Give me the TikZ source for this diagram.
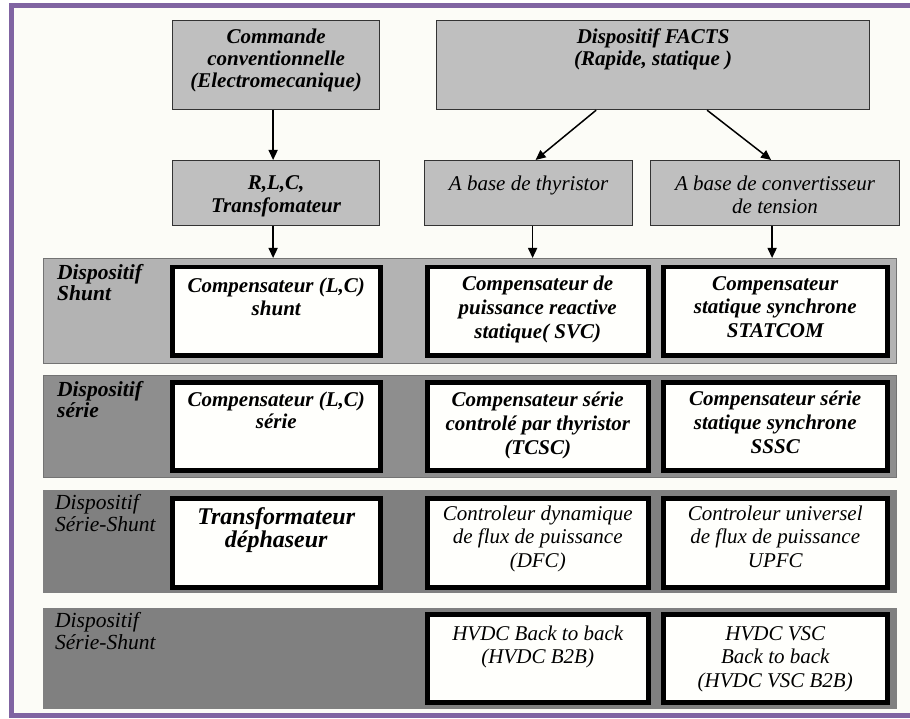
\documentclass[tikz,border=0pt]{standalone}
\usepackage{fontspec}
\setmainfont{Liberation Serif}[ItalicFont={Liberation Serif Italic},BoldFont={Liberation Serif Bold},BoldItalicFont={Liberation Serif Bold Italic}]
\usetikzlibrary{arrows.meta}
\definecolor{framec}{HTML}{8064A2}
\definecolor{bgc}{HTML}{FCFCF7}
\definecolor{topg}{HTML}{BFBFBF}
\definecolor{pan1}{HTML}{B3B3B3}
\definecolor{pan2}{HTML}{8E8E8E}
\definecolor{pan3}{HTML}{808080}
\definecolor{wfill}{HTML}{FFFFFC}
\newcommand\tb[9]{%
  \pgfmathsetmacro\bw{#5-#3}%
  \pgfmathsetmacro\bh{#6-#4}%
  \node[#1,anchor=north west,inner sep=0pt] (#2) at (#3,#4)
   {\parbox[c][\bh pt][t]{\bw pt}{\setlength\baselineskip{#9pt}\centering\rule{0pt}{#7pt}#8\par}};}
\begin{document}
\begin{tikzpicture}[x=1pt,y=-1pt,
  topbox/.style={draw=black!80,line width=1.2pt,fill=topg},
  wbox/.style={draw=black,line width=4.5pt,fill=wfill},
  bfi/.style={font=\fontsize{21}{24}\selectfont\bfseries\itshape},
  rgi/.style={font=\fontsize{21}{24}\selectfont\itshape},
  big/.style={font=\fontsize{24}{24}\selectfont\bfseries\itshape},
  panelbox/.style={anchor=north west,inner sep=0pt,minimum width=853pt,draw=black!55,line width=0.8pt},
  lbl/.style={anchor=north west,inner sep=0pt},
  arr/.style={line width=1.5pt,-{Triangle[length=10pt,width=9pt]}}]
\useasboundingbox (0,0) rectangle (910,719);
\fill[white] (0,0) rectangle (910,719);
\fill[bgc] (11,6) rectangle (910,715);
\draw[framec,line width=5pt] (910,6) -- (11,6) -- (11,715) -- (910,715);

% panels
\node[panelbox,fill=pan1,minimum height=105pt] (p1) at (43,258) {};
\node[panelbox,fill=pan2,minimum height=102pt] (p2) at (43,375) {};
\node[panelbox,fill=pan3,draw=pan3,minimum height=102pt] (p3) at (43,490) {};
\node[panelbox,fill=pan3,draw=pan3,minimum height=100pt] (p4) at (43,608) {};

% panel labels
\node[lbl,font=\fontsize{21.5}{21}\selectfont\bfseries\itshape] (l1) at (57,258) {\parbox[t]{110pt}{\raggedright\rule{0pt}{21pt}Dispositif\\Shunt}};
\node[lbl,font=\fontsize{21.5}{21}\selectfont\bfseries\itshape] (l2) at (57,375) {\parbox[t]{110pt}{\raggedright\rule{0pt}{21pt}Dispositif\\série}};
\node[lbl,font=\fontsize{21.5}{22}\selectfont\itshape] (l3) at (55,490) {\parbox[t]{115pt}{\raggedright\rule{0pt}{19pt}Dispositif\\Série-Shunt}};
\node[lbl,font=\fontsize{21.5}{22}\selectfont\itshape] (l4) at (55,608) {\parbox[t]{115pt}{\raggedright\rule{0pt}{19pt}Dispositif\\Série-Shunt}};

% top boxes
\tb{topbox,bfi}{cmd}{172}{20}{379}{109}{23}{Commande\\conventionnelle\\(Electromecanique)}{22}
\tb{topbox,bfi}{facts}{436}{20}{869}{109}{23}{Dispositif FACTS\\(Rapide, statique )}{22}
\tb{topbox,bfi}{rlc}{172}{160}{379}{225}{29}{R,L,C,\\Transfomateur}{23}
\tb{topbox,rgi}{thy}{424}{160}{632}{225}{30}{A base de thyristor}{23}
\tb{topbox,rgi}{conv}{650}{160}{899}{225}{30}{A base de convertisseur\\de tension}{23}

% row 1
\tb{wbox,bfi}{a1}{170}{265}{378}{353}{25}{Compensateur (L,C)\\shunt}{23}
\tb{wbox,bfi}{a2}{425}{265}{646}{353}{23}{Compensateur de\\puissance reactive\\statique( SVC)}{24}
\tb{wbox,bfi}{a3}{661}{265}{885}{353}{23}{Compensateur\\statique synchrone\\STATCOM}{23.5}
% row 2
\tb{wbox,bfi}{b1}{170}{380}{378}{468}{24}{Compensateur (L,C)\\série}{22}
\tb{wbox,bfi}{b2}{425}{380}{646}{468}{24}{Compensateur série\\controlé par thyristor\\(TCSC)}{24}
\tb{wbox,bfi}{b3}{661}{380}{885}{468}{23}{Compensateur série\\statique synchrone\\SSSC}{24}
% row 3
\tb{wbox,big}{c1}{170}{496}{378}{585}{26}{Transformateur\\déphaseur}{23}
\tb{wbox,rgi}{c2}{425}{496}{646}{585}{22}{Controleur dynamique\\de flux de puissance\\(DFC)}{23.5}
\tb{wbox,rgi}{c3}{661}{496}{885}{585}{22}{Controleur universel\\de flux de puissance\\UPFC}{23.5}
% row 4
\tb{wbox,rgi}{d2}{425}{612}{646}{700}{26}{HVDC Back to back\\(HVDC B2B)}{23}
\tb{wbox,rgi}{d3}{661}{612}{885}{700}{26}{HVDC VSC\\Back to back\\(HVDC VSC B2B)}{23.5}

% arrows
\draw[arr] ([xshift=-3pt]cmd.south) -- ([xshift=-3pt]rlc.north);
\draw[arr] ([xshift=-57pt]facts.south) -- ([xshift=7pt]thy.north);
\draw[arr] ([xshift=54pt]facts.south) -- ([xshift=-4pt]conv.north);
\draw[arr] ([xshift=-3pt]rlc.south) -- ([xshift=-3pt]rlc.south |- p1.north);
\draw[arr] ([xshift=4pt]thy.south) -- ([xshift=4pt]thy.south |- p1.north);
\draw[arr] ([xshift=-3pt]conv.south) -- ([xshift=-3pt]conv.south |- p1.north);
\end{tikzpicture}
\end{document}
